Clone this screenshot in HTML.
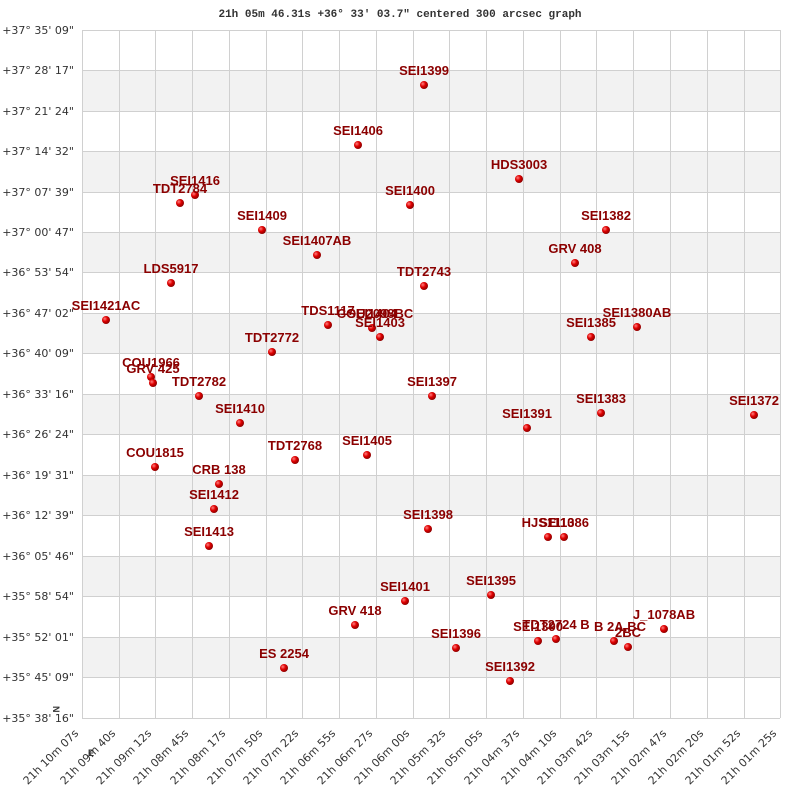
<!DOCTYPE html>
<html><head><meta charset="utf-8"><style>
body{margin:0;background:#fff}
svg{display:block}
.yl{font-family:"DejaVu Sans",sans-serif;font-size:11px;fill:#333}
.xl{font-family:"DejaVu Sans",sans-serif;font-size:11px;fill:#333}
.lb{font-family:"Liberation Sans",sans-serif;font-size:13px;font-weight:bold;fill:#8b0000}
</style></head><body>
<svg width="800" height="800" xmlns="http://www.w3.org/2000/svg">
<defs><radialGradient id="g" cx="35%" cy="35%" r="65%"><stop offset="0" stop-color="#ff8080"/><stop offset="0.5" stop-color="#e00000"/><stop offset="1" stop-color="#900000"/></radialGradient></defs>
<text x="400" y="17" text-anchor="middle" font-family="Liberation Mono,monospace" font-size="11" font-weight="bold" fill="#333">21h 05m 46.31s +36° 33′ 03.7" centered 300 arcsec graph</text>
<g fill="#f2f2f2">
<rect x="82" y="70" width="698" height="41"/><rect x="82" y="151" width="698" height="41"/><rect x="82" y="232" width="698" height="40"/><rect x="82" y="313" width="698" height="40"/><rect x="82" y="394" width="698" height="40"/><rect x="82" y="475" width="698" height="40"/><rect x="82" y="556" width="698" height="40"/><rect x="82" y="637" width="698" height="40"/>
</g>
<g stroke="#d0d0d0" stroke-width="1">
<path d="M82.5 30V718M119.5 30V718M155.5 30V718M192.5 30V718M229.5 30V718M266.5 30V718M302.5 30V718M339.5 30V718M376.5 30V718M413.5 30V718M449.5 30V718M486.5 30V718M523.5 30V718M560.5 30V718M596.5 30V718M633.5 30V718M670.5 30V718M707.5 30V718M744.5 30V718M780.5 30V718"/>
<path d="M82 30.5H780M82 70.5H780M82 111.5H780M82 151.5H780M82 192.5H780M82 232.5H780M82 272.5H780M82 313.5H780M82 353.5H780M82 394.5H780M82 434.5H780M82 475.5H780M82 515.5H780M82 556.5H780M82 596.5H780M82 637.5H780M82 677.5H780M82 718.5H780"/>
</g>
<g class="yl" text-anchor="end">
<text x="74" y="34">+37° 35' 09"</text><text x="74" y="74">+37° 28' 17"</text><text x="74" y="115">+37° 21' 24"</text><text x="74" y="155">+37° 14' 32"</text><text x="74" y="196">+37° 07' 39"</text><text x="74" y="236">+37° 00' 47"</text><text x="74" y="276">+36° 53' 54"</text><text x="74" y="317">+36° 47' 02"</text><text x="74" y="357">+36° 40' 09"</text><text x="74" y="398">+36° 33' 16"</text><text x="74" y="438">+36° 26' 24"</text><text x="74" y="479">+36° 19' 31"</text><text x="74" y="519">+36° 12' 39"</text><text x="74" y="560">+36° 05' 46"</text><text x="74" y="600">+35° 58' 54"</text><text x="74" y="641">+35° 52' 01"</text><text x="74" y="681">+35° 45' 09"</text><text x="74" y="722">+35° 38' 16"</text>
</g>
<text x="0" y="0" transform="translate(53,706) rotate(90)" font-family="Liberation Sans,sans-serif" font-size="9" font-weight="bold" fill="#333">N</text>
<text x="88" y="756" font-family="Liberation Sans,sans-serif" font-size="9" font-weight="bold" fill="#333">E</text>
<g class="xl" text-anchor="end">
<text transform="translate(79,734) rotate(-45)">21h 10m 07s</text><text transform="translate(116,734) rotate(-45)">21h 09m 40s</text><text transform="translate(152,734) rotate(-45)">21h 09m 12s</text><text transform="translate(189,734) rotate(-45)">21h 08m 45s</text><text transform="translate(226,734) rotate(-45)">21h 08m 17s</text><text transform="translate(263,734) rotate(-45)">21h 07m 50s</text><text transform="translate(299,734) rotate(-45)">21h 07m 22s</text><text transform="translate(336,734) rotate(-45)">21h 06m 55s</text><text transform="translate(373,734) rotate(-45)">21h 06m 27s</text><text transform="translate(410,734) rotate(-45)">21h 06m 00s</text><text transform="translate(446,734) rotate(-45)">21h 05m 32s</text><text transform="translate(483,734) rotate(-45)">21h 05m 05s</text><text transform="translate(520,734) rotate(-45)">21h 04m 37s</text><text transform="translate(557,734) rotate(-45)">21h 04m 10s</text><text transform="translate(593,734) rotate(-45)">21h 03m 42s</text><text transform="translate(630,734) rotate(-45)">21h 03m 15s</text><text transform="translate(667,734) rotate(-45)">21h 02m 47s</text><text transform="translate(704,734) rotate(-45)">21h 02m 20s</text><text transform="translate(741,734) rotate(-45)">21h 01m 52s</text><text transform="translate(777,734) rotate(-45)">21h 01m 25s</text>
</g>
<g fill="url(#g)">
<circle cx="424" cy="85" r="4"/><circle cx="358" cy="145" r="4"/><circle cx="519" cy="179" r="4"/><circle cx="195" cy="195" r="4"/><circle cx="180" cy="203" r="4"/><circle cx="410" cy="205" r="4"/><circle cx="262" cy="230" r="4"/><circle cx="606" cy="230" r="4"/><circle cx="317" cy="255" r="4"/><circle cx="575" cy="263" r="4"/><circle cx="171" cy="283" r="4"/><circle cx="424" cy="286" r="4"/><circle cx="106" cy="320" r="4"/><circle cx="328" cy="325" r="4"/><circle cx="372" cy="328" r="4"/><circle cx="380" cy="337" r="4"/><circle cx="591" cy="337" r="4"/><circle cx="637" cy="327" r="4"/><circle cx="272" cy="352" r="4"/><circle cx="151" cy="377" r="4"/><circle cx="153" cy="383" r="4"/><circle cx="199" cy="396" r="4"/><circle cx="432" cy="396" r="4"/><circle cx="240" cy="423" r="4"/><circle cx="601" cy="413" r="4"/><circle cx="754" cy="415" r="4"/><circle cx="527" cy="428" r="4"/><circle cx="367" cy="455" r="4"/><circle cx="295" cy="460" r="4"/><circle cx="155" cy="467" r="4"/><circle cx="219" cy="484" r="4"/><circle cx="214" cy="509" r="4"/><circle cx="428" cy="529" r="4"/><circle cx="548" cy="537" r="4"/><circle cx="564" cy="537" r="4"/><circle cx="209" cy="546" r="4"/><circle cx="491" cy="595" r="4"/><circle cx="405" cy="601" r="4"/><circle cx="355" cy="625" r="4"/><circle cx="664" cy="629" r="4"/><circle cx="456" cy="648" r="4"/><circle cx="538" cy="641" r="4"/><circle cx="556" cy="639" r="4"/><circle cx="614" cy="641" r="4"/><circle cx="628" cy="647" r="4"/><circle cx="284" cy="668" r="4"/><circle cx="510" cy="681" r="4"/>
</g>
<g class="lb" text-anchor="middle">
<text x="424" y="75">SEI1399</text><text x="358" y="135">SEI1406</text><text x="519" y="169">HDS3003</text><text x="195" y="185">SEI1416</text><text x="180" y="193">TDT2784</text><text x="410" y="195">SEI1400</text><text x="262" y="220">SEI1409</text><text x="606" y="220">SEI1382</text><text x="317" y="245">SEI1407AB</text><text x="575" y="253">GRV 408</text><text x="171" y="273">LDS5917</text><text x="424" y="276">TDT2743</text><text x="106" y="310">SEI1421AC</text><text x="328" y="315">TDS1117</text><text x="372" y="318">SEI1404</text><text x="375" y="318">COU2098BC</text><text x="380" y="327">SEI1403</text><text x="591" y="327">SEI1385</text><text x="637" y="317">SEI1380AB</text><text x="272" y="342">TDT2772</text><text x="151" y="367">COU1966</text><text x="153" y="373">GRV 425</text><text x="199" y="386">TDT2782</text><text x="432" y="386">SEI1397</text><text x="240" y="413">SEI1410</text><text x="601" y="403">SEI1383</text><text x="754" y="405">SEI1372</text><text x="527" y="418">SEI1391</text><text x="367" y="445">SEI1405</text><text x="295" y="450">TDT2768</text><text x="155" y="457">COU1815</text><text x="219" y="474">CRB 138</text><text x="214" y="499">SEI1412</text><text x="428" y="519">SEI1398</text><text x="548" y="527">HJS1110</text><text x="564" y="527">SEI1386</text><text x="209" y="536">SEI1413</text><text x="491" y="585">SEI1395</text><text x="405" y="591">SEI1401</text><text x="355" y="615">GRV 418</text><text x="664" y="619">J_1078AB</text><text x="456" y="638">SEI1396</text><text x="538" y="631">SEI1390</text><text x="556" y="629">TDT2724 B</text><text x="620" y="631">B   2A,BC</text><text x="628" y="637">2BC</text><text x="284" y="658">ES 2254</text><text x="510" y="671">SEI1392</text>
</g>
</svg>
</body></html>
